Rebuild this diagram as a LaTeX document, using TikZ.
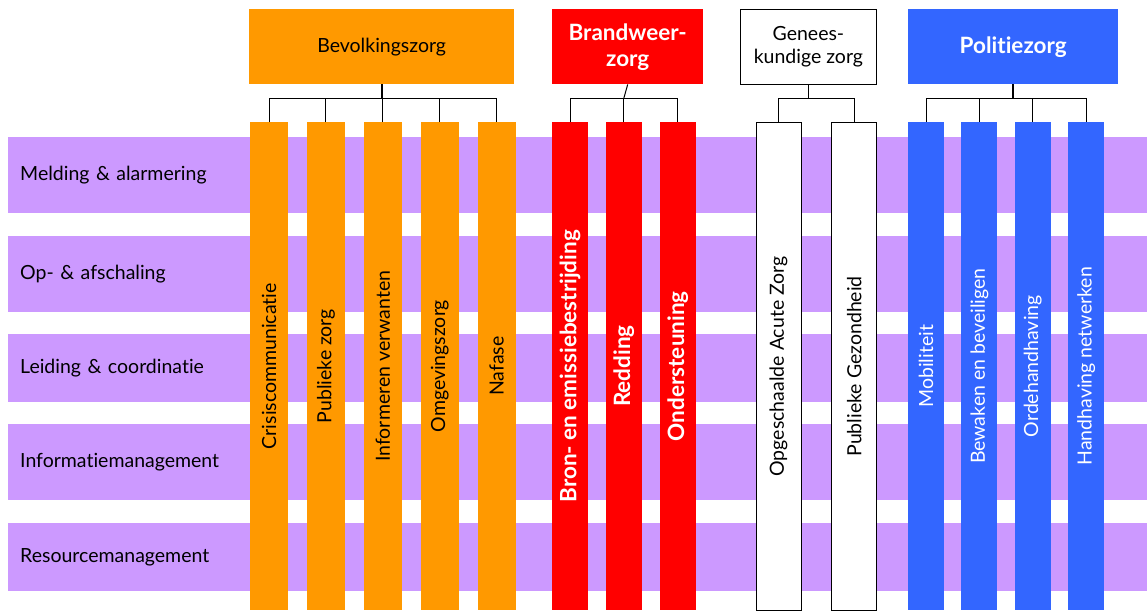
\documentclass[tikz,border=0pt]{standalone}
\usepackage{fontspec}
\setmainfont{Lato}[Ligatures=NoCommon]
\usetikzlibrary{positioning}

\definecolor{oranje}{HTML}{FF9900}
\definecolor{rood}{HTML}{FF0000}
\definecolor{blauw}{HTML}{3366FF}
\definecolor{lila}{HTML}{CC99FF}

\tikzset{
  band/.style={fill=lila, anchor=north west, minimum width=1139pt, text width=1115pt,
    inner xsep=12pt, inner ysep=0pt, align=left},
  kop/.style={anchor=north west, minimum height=75pt, inner sep=0pt, align=center},
  bar/.style={anchor=north, minimum height=488pt, inner sep=0pt},
  vet/.style={text=white, font=\fontsize{22.5}{26}\selectfont\bfseries},
  tak/.style={draw=black, line width=1pt},
  stam/.style={draw=black, line width=2pt}
}

\begin{document}
\begin{tikzpicture}[x=1pt, y=-1pt, node distance=22pt, font=\fontsize{19.5}{23}\selectfont]

\useasboundingbox (0,0) rectangle (1147,610);

% Rows
\node[band, minimum height=76pt] (melding) at (8,137) {Melding \& alarmering};
\node[band, minimum height=76pt, below=of melding] (opschaling) {Op- \& afschaling};
\node[band, minimum height=68pt, below=of opschaling] (leiding) {Leiding \& coordinatie};
\node[band, minimum height=76pt, below=of leiding] (infomgt) {Informatiemanagement};
\node[band, minimum height=68pt, below=of infomgt] (resmgt) {Resourcemanagement};

% Headers
\node[kop, fill=oranje, minimum width=265pt] (bv) at (249,9) {Bevolkingszorg};
\node[kop, fill=rood, vet, minimum width=151pt] (bw) at (552,9) {Brandweer-\\zorg};
\node[kop, fill=white, draw=black, line width=0.8pt, minimum width=136pt] (gz) at (740,9) {Genees-\\kundige zorg};
\node[kop, fill=blauw, vet, minimum width=210pt] (pz) at (908,9) {Politiezorg};

% Bevolkingszorg bars
\node[bar, fill=oranje, minimum width=38pt, label={[rotate=90]center:Crisiscommunicatie}] (bv1) at (269,122) {};
\node[bar, fill=oranje, minimum width=38pt, right=18.5pt of bv1, label={[rotate=90]center:Publieke zorg}] (bv2) {};
\node[bar, fill=oranje, minimum width=38pt, right=18.5pt of bv2, label={[rotate=90]center:Informeren verwanten}] (bv3) {};
\node[bar, fill=oranje, minimum width=38pt, right=18.5pt of bv3, label={[rotate=90]center:Omgevingszorg}] (bv4) {};
\node[bar, fill=oranje, minimum width=38pt, right=18.5pt of bv4, label={[rotate=90]center:Nafase}] (bv5) {};

% Brandweerzorg bars
\node[bar, fill=rood, minimum width=36pt, label={[rotate=90, vet]center:Bron- en emissiebestrijding}] (bw1) at (570,122) {};
\node[bar, fill=rood, minimum width=36pt, right=17.5pt of bw1, label={[rotate=90, vet]center:Redding}] (bw2) {};
\node[bar, fill=rood, minimum width=36pt, right=17.5pt of bw2, label={[rotate=90, vet]center:Ondersteuning}] (bw3) {};

% Geneeskundige zorg bars
\node[bar, fill=white, draw=black, line width=0.8pt, minimum width=45pt, label={[rotate=90]center:Opgeschaalde Acute Zorg}] (gz1) at (778.5,122) {};
\node[bar, fill=white, draw=black, line width=0.8pt, minimum width=45pt, right=30pt of gz1, label={[rotate=90]center:Publieke Gezondheid}] (gz2) {};

% Politiezorg bars
\node[bar, fill=blauw, minimum width=36pt, label={[rotate=90, text=white]center:Mobiliteit}] (pz1) at (926,122) {};
\node[bar, fill=blauw, minimum width=36pt, right=17pt of pz1, label={[rotate=90, text=white]center:Bewaken en beveiligen}] (pz2) {};
\node[bar, fill=blauw, minimum width=36pt, right=17pt of pz2, label={[rotate=90, text=white]center:Ordehandhaving}] (pz3) {};
\node[bar, fill=blauw, minimum width=36pt, right=17pt of pz3, label={[rotate=90, text=white]center:Handhaving netwerken}] (pz4) {};

% Tree lines
\coordinate (bus) at (0,98);

\draw[stam] (bv.south) -- (bv.south |- bus);
\draw[tak] (bv1.north) |- (bv5.north |- bus) -- (bv5.north);
\draw[tak] (bv2.north) -- (bv2.north |- bus);
\draw[tak] (bv3.north) -- (bv3.north |- bus);
\draw[tak] (bv4.north) -- (bv4.north |- bus);

\draw[tak] (bw.south) -- (bw2.north |- bus);
\draw[tak] (bw1.north) |- (bw3.north |- bus) -- (bw3.north);
\draw[tak] (bw2.north) -- (bw2.north |- bus);

\draw[tak] (gz.south) -- (gz.south |- bus);
\draw[tak] (gz1.north) |- (gz2.north |- bus) -- (gz2.north);

\draw[stam] (pz.south) -- (pz.south |- bus);
\draw[tak] (pz1.north) |- (pz4.north |- bus) -- (pz4.north);
\draw[tak] (pz2.north) -- (pz2.north |- bus);
\draw[tak] (pz3.north) -- (pz3.north |- bus);

\end{tikzpicture}
\end{document}
